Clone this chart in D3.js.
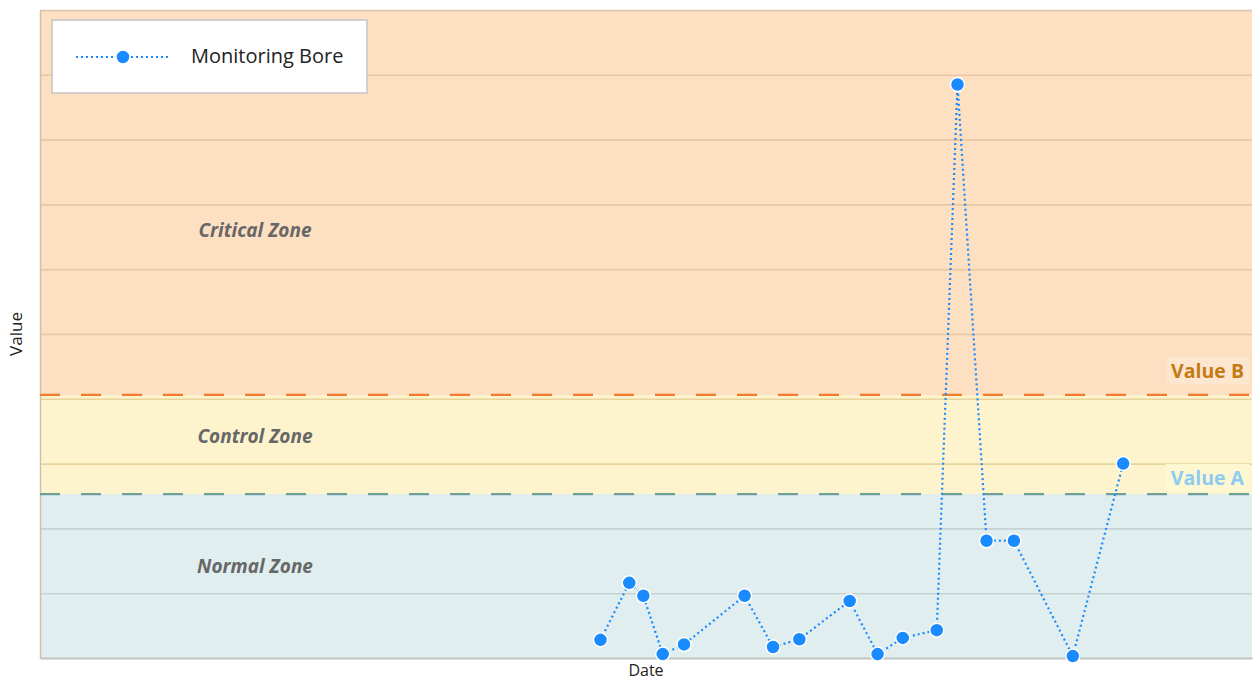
<!DOCTYPE html>
<html>
<head>
<meta charset="utf-8">
<script src="https://cdn.jsdelivr.net/npm/d3@7"></script>
<style>
  html, body { margin: 0; padding: 0; background: #fff; }
  svg { display: block; font-family: "Open Sans", "Noto Sans", sans-serif; }
</style>
</head>
<body>
<svg id="chart" width="1253" height="681"></svg>
<script>
// Monitoring bore readings
const sampleDates = [
  "2015-07-21", "2015-11-02", "2015-12-23", "2016-03-02", "2016-05-18",
  "2016-12-23", "2017-04-05", "2017-07-09", "2018-01-07", "2018-04-18",
  "2018-07-18", "2018-11-18", "2019-02-01", "2019-05-17", "2019-08-24",
  "2020-03-24", "2020-09-22"
];
const boreValues = [
  0.28, 1.16, 0.96, 0.06, 0.21,
  0.96, 0.17, 0.29, 0.88, 0.06,
  0.31, 0.43, 8.85, 1.81, 1.81,
  0.03, 3.00
];
const dateExtent = ["2010-01-01", "2022-01-01"];
const valueExtent = [0, 10];
const gridTicks = [1, 2, 3, 4, 5, 6, 7, 8, 9, 10];

// Threshold levels and the zones they bound
const thresholdNames = ["Value A", "Value B"];
const thresholdLevels = [2.53, 4.06];
const zoneNames = ["Normal Zone", "Control Zone", "Critical Zone"];
const zoneFrom = [0, 2.53, 4.06];
const zoneTo = [2.53, 4.06, 10];
const zoneLabelAt = [1.39, 3.39, 6.57];

const seriesName = "Monitoring Bore";

const svg = d3.select("#chart");
const margin = { left: 40, right: 1, top: 10, bottom: 23 };
const W = +svg.attr("width"), H = +svg.attr("height");
const x0 = margin.left, x1 = W - margin.right;
const y0 = H - margin.bottom, y1 = margin.top;

const parse = d3.timeParse("%Y-%m-%d");
const x = d3.scaleTime().domain(dateExtent.map(parse)).range([x0, x1]);
const y = d3.scaleLinear().domain(valueExtent).range([y0, y1]);

const zoneFill = ["#e0eef0", "#fdf3cd", "#fddfc1"];
const zoneGrid = ["#c6d3d4", "#e7d59c", "#e9c7a4"];
const thresholdColor = ["#6f9f99", "#f47a2e"];
const thresholdText = ["#8fcaf0", "#c67a12"];
const thresholdBg = ["#fdf8d2", "#fce6d0"];
const thresholdLabelShift = [-9, -17];

// zone bands
const zones = zoneNames.map((n, i) => ({ n, from: zoneFrom[i], to: zoneTo[i], i }));
svg.append("g").selectAll("rect").data(zones).join("rect")
  .attr("x", x0).attr("width", x1 - x0)
  .attr("y", d => y(d.to)).attr("height", d => y(d.from) - y(d.to))
  .attr("fill", d => zoneFill[d.i]);

// horizontal grid, tinted by the zone each line falls in
function zoneOf(v) {
  for (let i = 0; i < zones.length; i++) if (v > zoneFrom[i] && v <= zoneTo[i]) return i;
  return 0;
}
svg.append("g")
  .attr("transform", `translate(${x0},0)`)
  .call(d3.axisLeft(y).tickValues(gridTicks.filter(t => t < valueExtent[1])).tickSize(-(x1 - x0)).tickFormat(""))
  .call(g => g.select(".domain").remove())
  .call(g => g.selectAll(".tick line")
    .attr("stroke", d => zoneGrid[zoneOf(d)]).attr("stroke-width", 1.6));

// top border
svg.append("line").attr("x1", x0).attr("x2", x1).attr("y1", y1 + 0.5).attr("y2", y1 + 0.5)
  .attr("stroke", "#d6c2b0").attr("stroke-width", 1.5);

// axes
svg.append("g").attr("transform", `translate(0,${y0})`)
  .call(d3.axisBottom(x).tickValues([]).tickSizeOuter(0))
  .call(g => g.select(".domain").attr("stroke", "#c0c4c4").attr("stroke-width", 2));
svg.append("g").attr("transform", `translate(${x0},0)`)
  .call(d3.axisLeft(y).tickValues([]).tickSizeOuter(0))
  .call(g => g.select(".domain").attr("stroke", "#cdbfb4").attr("stroke-width", 1.5));

// threshold lines
const th = thresholdNames.map((n, i) => ({ n, v: thresholdLevels[i], i }));
svg.append("g").selectAll("line").data(th).join("line")
  .attr("x1", x0).attr("x2", x1)
  .attr("y1", d => y(d.v)).attr("y2", d => y(d.v))
  .attr("stroke", d => thresholdColor[d.i]).attr("stroke-width", 2.2)
  .attr("stroke-dasharray", "20,21");

// threshold labels with a soft backing box
const thLabels = svg.append("g").selectAll("g").data(th).join("g");
thLabels.each(function (d) {
  const g = d3.select(this);
  const t = g.append("text")
    .attr("x", x1 - 8).attr("y", y(d.v) + thresholdLabelShift[d.i])
    .attr("text-anchor", "end")
    .attr("font-size", 19.5).attr("font-weight", "bold")
    .attr("fill", thresholdText[d.i])
    .text(d.n);
  const bb = t.node().getBBox();
  g.insert("rect", "text")
    .attr("x", bb.x - 5).attr("y", bb.y)
    .attr("width", bb.width + 10).attr("height", bb.height)
    .attr("fill", thresholdBg[d.i]);
});

// zone labels
svg.append("g").selectAll("text").data(zones).join("text")
  .attr("x", 255).attr("y", d => y(zoneLabelAt[d.i]))
  .attr("text-anchor", "middle").attr("dominant-baseline", "middle")
  .attr("font-size", 19).attr("font-weight", "bold").attr("font-style", "italic")
  .attr("fill", "#676767")
  .text(d => d.n);

// series
const pts = sampleDates.map((s, i) => ({ d: parse(s), v: boreValues[i] }));
const blue = "#1a8aff";
svg.append("path").datum(pts)
  .attr("fill", "none").attr("stroke", blue).attr("stroke-width", 2.2)
  .attr("stroke-dasharray", "2,3")
  .attr("d", d3.line().x(p => x(p.d)).y(p => y(p.v)));
svg.append("g").selectAll("circle").data(pts).join("circle")
  .attr("cx", p => x(p.d)).attr("cy", p => y(p.v)).attr("r", 7)
  .attr("fill", blue).attr("stroke", "#fff").attr("stroke-width", 1.5);

// axis titles
svg.append("text").attr("x", (x0 + x1) / 2).attr("y", 676)
  .attr("text-anchor", "middle").attr("font-size", 16).attr("fill", "#222")
  .text("Date");
svg.append("text")
  .attr("transform", `translate(22,${(y0 + y1) / 2}) rotate(-90)`)
  .attr("text-anchor", "middle").attr("font-size", 17).attr("fill", "#222")
  .text("Value");

// legend
const lg = svg.append("g").attr("transform", "translate(52,20)");
lg.append("rect").attr("width", 315).attr("height", 73)
  .attr("fill", "#fff").attr("stroke", "#c4c4c4").attr("stroke-width", 1.5);
lg.append("line").attr("x1", 24).attr("x2", 116).attr("y1", 37).attr("y2", 37)
  .attr("stroke", blue).attr("stroke-width", 2.2).attr("stroke-dasharray", "2,3");
lg.append("circle").attr("cx", 71).attr("cy", 37).attr("r", 7)
  .attr("fill", blue).attr("stroke", "#fff").attr("stroke-width", 1.5);
lg.append("text").attr("x", 139).attr("y", 38).attr("dominant-baseline", "middle")
  .attr("font-size", 20).attr("fill", "#222").text(seriesName);
</script>
</body>
</html>
